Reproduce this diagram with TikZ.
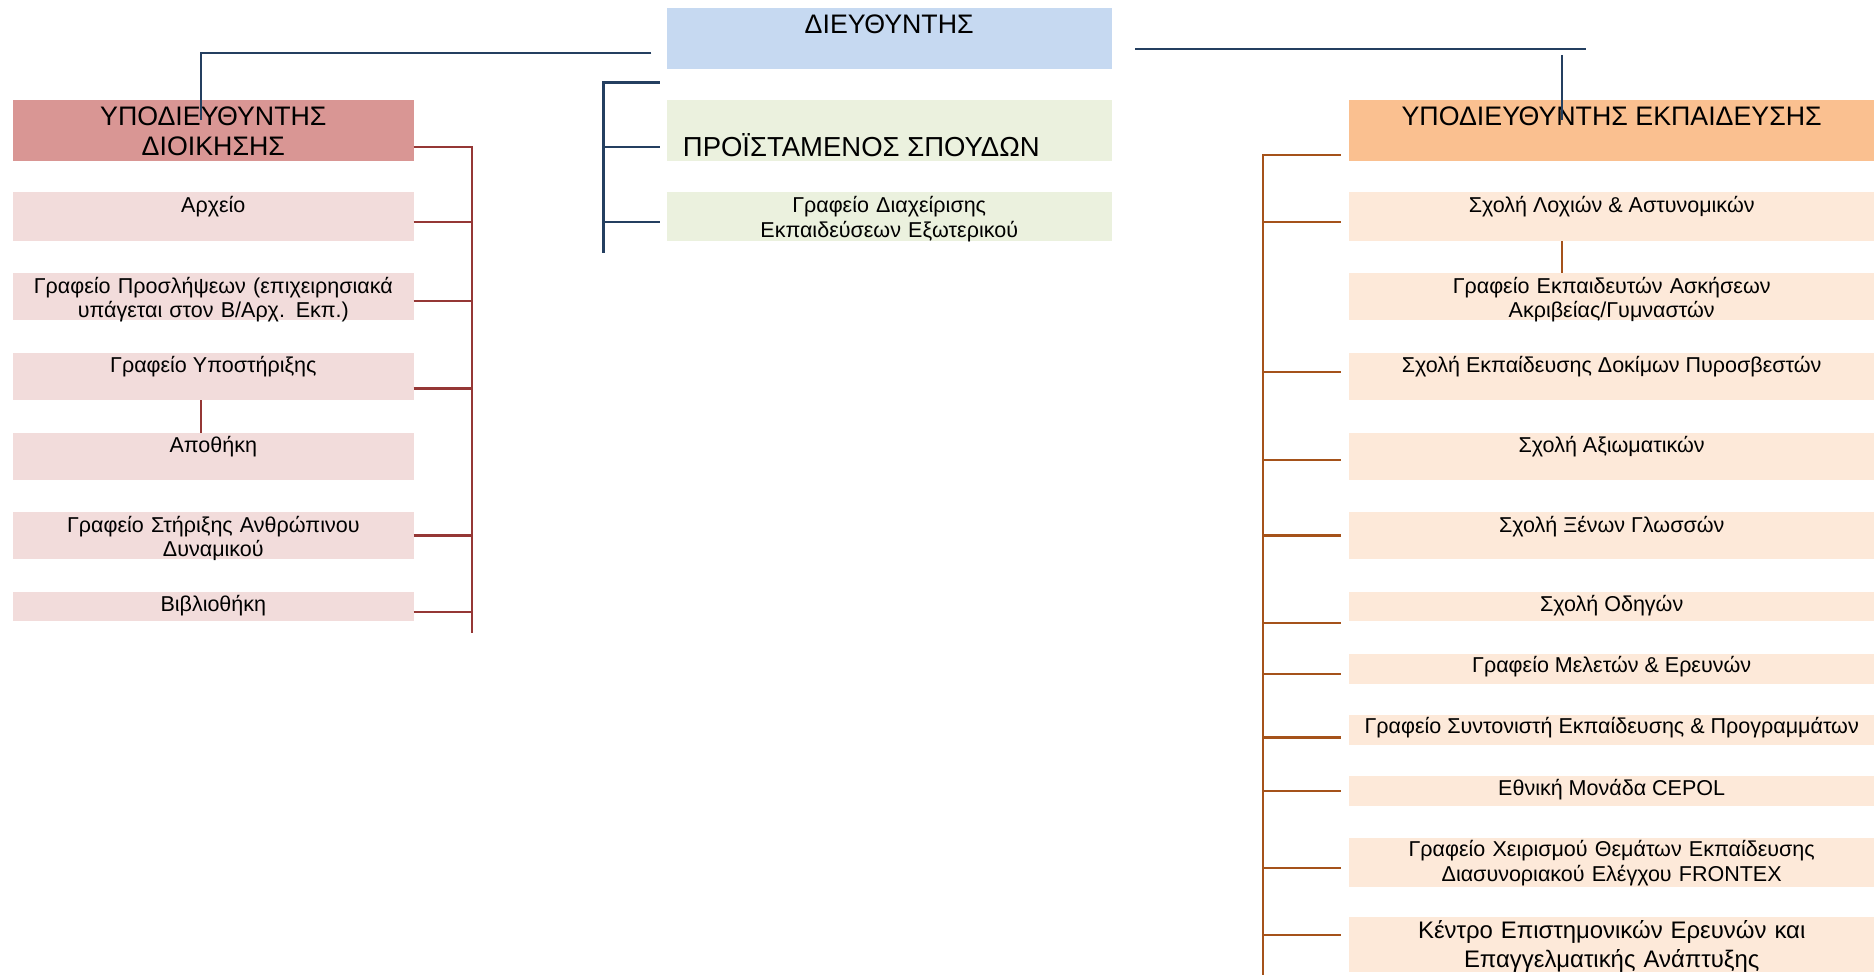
\documentclass[tikz,border=0pt]{standalone}
\usepackage{fontspec}
\setmainfont{Liberation Sans}
\usetikzlibrary{fit}
\definecolor{dirblue}{HTML}{C6D9F1}
\definecolor{grn}{HTML}{EBF1DE}
\definecolor{lhead}{HTML}{D99694}
\definecolor{lchild}{HTML}{F2DCDB}
\definecolor{rhead}{HTML}{FAC090}
\definecolor{rchild}{HTML}{FDE9D9}
\definecolor{navy}{HTML}{243F60}
\definecolor{redl}{HTML}{953735}
\definecolor{orl}{HTML}{A5521A}
\tikzset{
  box/.style={inner sep=0pt, outer sep=0pt, draw=none},
  smalltxt/.style={font=\fontsize{9}{10.25}\selectfont, align=center, inner sep=0pt, anchor=base},
  bigtxt/.style={font=\fontsize{11.2}{12.5}\selectfont, align=center, inner sep=0pt, anchor=base},
  midtxt/.style={font=\fontsize{10}{11.8}\selectfont, align=center, inner sep=0pt, anchor=base},
  navyline/.style={draw=navy, line width=0.9pt},
  redline/.style={draw=redl, line width=0.9pt},
  orline/.style={draw=orl, line width=0.9pt},
}
\begin{document}
\begin{tikzpicture}[x=0.5pt,y=-0.5pt]
\useasboundingbox (0,0) rectangle (1568,816);
% director
\node[box, fill=dirblue, fit={(558,7)(930,58)}] (D) {};
\node[bigtxt] (Dt) at (744,28) {ΔΙΕΥΘΥΝΤΗΣ};
% green
\node[box, fill=grn, fit={(558,84)(930,135)}] (P) {};
\node[bigtxt, font=\fontsize{11.5}{12.5}\selectfont, anchor=base west] (Pt) at (571,131) {ΠΡΟΪΣΤΑΜΕΝΟΣ ΣΠΟΥΔΩΝ};
\node[box, fill=grn, fit={(558,161)(930,202)}] (G) {};
\node[smalltxt, text width=180pt] (Gt) at (744,178) {Γραφείο Διαχείρισης\\Εκπαιδεύσεων Εξωτερικού};
% left column
\node[box, fill=lhead, fit={(11,84)(346,135)}] (LH) {};
\node[bigtxt, text width=165pt] (LHt) at (178.5,105) {ΥΠΟΔΙΕΥΘΥΝΤΗΣ\\ΔΙΟΙΚΗΣΗΣ};
\node[box, fill=lchild, fit={(11,161)(346,202)}] (L1) {};
\node[smalltxt] (L1t) at (178.5,178) {Αρχείο};
\node[box, fill=lchild, fit={(11,228)(346,268)}] (L2) {};
\node[smalltxt, text width=165pt] (L2t) at (178.5,245.5) {Γραφείο Προσλήψεων (επιχειρησιακά\\υπάγεται στον Β/Αρχ. Εκπ.)};
\node[box, fill=lchild, fit={(11,295)(346,335)}] (L3) {};
\node[smalltxt] (L3t) at (178.5,312) {Γραφείο Υποστήριξης};
\node[box, fill=lchild, fit={(11,362)(346,402)}] (L4) {};
\node[smalltxt] (L4t) at (178.5,379) {Αποθήκη};
\node[box, fill=lchild, fit={(11,428)(346,468)}] (L5) {};
\node[smalltxt, text width=165pt] (L5t) at (178.5,445.5) {Γραφείο Στήριξης Ανθρώπινου\\Δυναμικού};
\node[box, fill=lchild, fit={(11,495)(346,520)}] (L6) {};
\node[smalltxt] (L6t) at (178.5,512) {Βιβλιοθήκη};
% right column
\node[box, fill=rhead, fit={(1129,84)(1568,135)}] (RH) {};
\node[bigtxt] (RHt) at (1348.5,105) {ΥΠΟΔΙΕΥΘΥΝΤΗΣ ΕΚΠΑΙΔΕΥΣΗΣ};
\node[box, fill=rchild, fit={(1129,161)(1568,202)}] (R1) {};
\node[smalltxt] (R1t) at (1348.5,178) {Σχολή Λοχιών \& Αστυνομικών};
\node[box, fill=rchild, fit={(1129,228)(1568,268)}] (R2) {};
\node[smalltxt, text width=215pt] (R2t) at (1348.5,245.5) {Γραφείο Εκπαιδευτών Ασκήσεων\\Ακριβείας/Γυμναστών};
\node[box, fill=rchild, fit={(1129,295)(1568,335)}] (R3) {};
\node[smalltxt] (R3t) at (1348.5,312) {Σχολή Εκπαίδευσης Δοκίμων Πυροσβεστών};
\node[box, fill=rchild, fit={(1129,362)(1568,402)}] (R4) {};
\node[smalltxt] (R4t) at (1348.5,379) {Σχολή Αξιωματικών};
\node[box, fill=rchild, fit={(1129,428)(1568,468)}] (R5) {};
\node[smalltxt] (R5t) at (1348.5,445.5) {Σχολή Ξένων Γλωσσών};
\node[box, fill=rchild, fit={(1129,495)(1568,520)}] (R6) {};
\node[smalltxt] (R6t) at (1348.5,512) {Σχολή Οδηγών};
\node[box, fill=rchild, fit={(1129,547)(1568,572)}] (R7) {};
\node[smalltxt] (R7t) at (1348.5,563) {Γραφείο Μελετών \& Ερευνών};
\node[box, fill=rchild, fit={(1129,598)(1568,623)}] (R8) {};
\node[smalltxt] (R8t) at (1348.5,614) {Γραφείο Συντονιστή Εκπαίδευσης \& Προγραμμάτων};
\node[box, fill=rchild, fit={(1129,649)(1568,674)}] (R9) {};
\node[smalltxt] (R9t) at (1348.5,665.5) {Εθνική Μονάδα CEPOL};
\node[box, fill=rchild, fit={(1129,701)(1568,742)}] (R10) {};
\node[smalltxt, text width=215pt] (R10t) at (1348.5,717) {Γραφείο Χειρισμού Θεμάτων Εκπαίδευσης\\Διασυνοριακού Ελέγχου FRONTEX};
\node[box, fill=rchild, fit={(1129,767)(1568,813)}] (R11) {};
\node[midtxt, text width=215pt] (R11t) at (1348.5,785.5) {Κέντρο Επιστημονικών Ερευνών και\\Επαγγελματικής Ανάπτυξης};
% navy connectors
\coordinate (jl) at (168,100);
\coordinate (jr) at (1307,100);
\draw[navyline] ([xshift=-6.5pt]D.west |- 0,44) -| (jl);
\draw[navyline] ([xshift=10pt]D.east |- 0,41) -- (1327,41);
\draw[navyline] (1307,46) -- (jr);
\coordinate (nb) at (505,212);
\draw[navyline] ([xshift=-3pt]D.south west |- 0,69) -| (nb);
\draw[navyline] ([xshift=-3pt]P.west |- 0,123) -- (505,123);
\draw[navyline] ([xshift=-3pt]G.west |- 0,186) -- (505,186);
% red connectors
\coordinate (rb) at (395,530);
\draw[redline] (LH.east |- 0,123) -| (rb);
\draw[redline] (L1.east |- 0,186) -- (395,186);
\draw[redline] (L2.east |- 0,252) -- (395,252);
\draw[redline] (L3.east |- 0,325) -- (395,325);
\draw[redline] (L5.east |- 0,448) -- (395,448);
\draw[redline] (L6.east |- 0,512) -- (395,512);
\draw[redline] (L3.south -| 168,0) -- (L4.north -| 168,0);
% orange connectors
\coordinate (ob) at (1057,816);
\draw[orline] ([xshift=-3.5pt]RH.west |- 0,130) -| (ob);
\draw[orline] ([xshift=-3.5pt]R1.west |- 0,186) -- (1057,186);
\draw[orline] ([xshift=-3.5pt]R3.west |- 0,311) -- (1057,311);
\draw[orline] ([xshift=-3.5pt]R4.west |- 0,385) -- (1057,385);
\draw[orline] ([xshift=-3.5pt]R5.west |- 0,448) -- (1057,448);
\draw[orline] ([xshift=-3.5pt]R6.west |- 0,521) -- (1057,521);
\draw[orline] ([xshift=-3.5pt]R7.west |- 0,564) -- (1057,564);
\draw[orline] ([xshift=-3.5pt]R8.west |- 0,617) -- (1057,617);
\draw[orline] ([xshift=-3.5pt]R9.west |- 0,662) -- (1057,662);
\draw[orline] ([xshift=-3.5pt]R10.west |- 0,726) -- (1057,726);
\draw[orline] ([xshift=-3.5pt]R11.west |- 0,782) -- (1057,782);
\draw[orline] (R1.south -| 1307,0) -- (R2.north -| 1307,0);
\end{tikzpicture}
\end{document}
